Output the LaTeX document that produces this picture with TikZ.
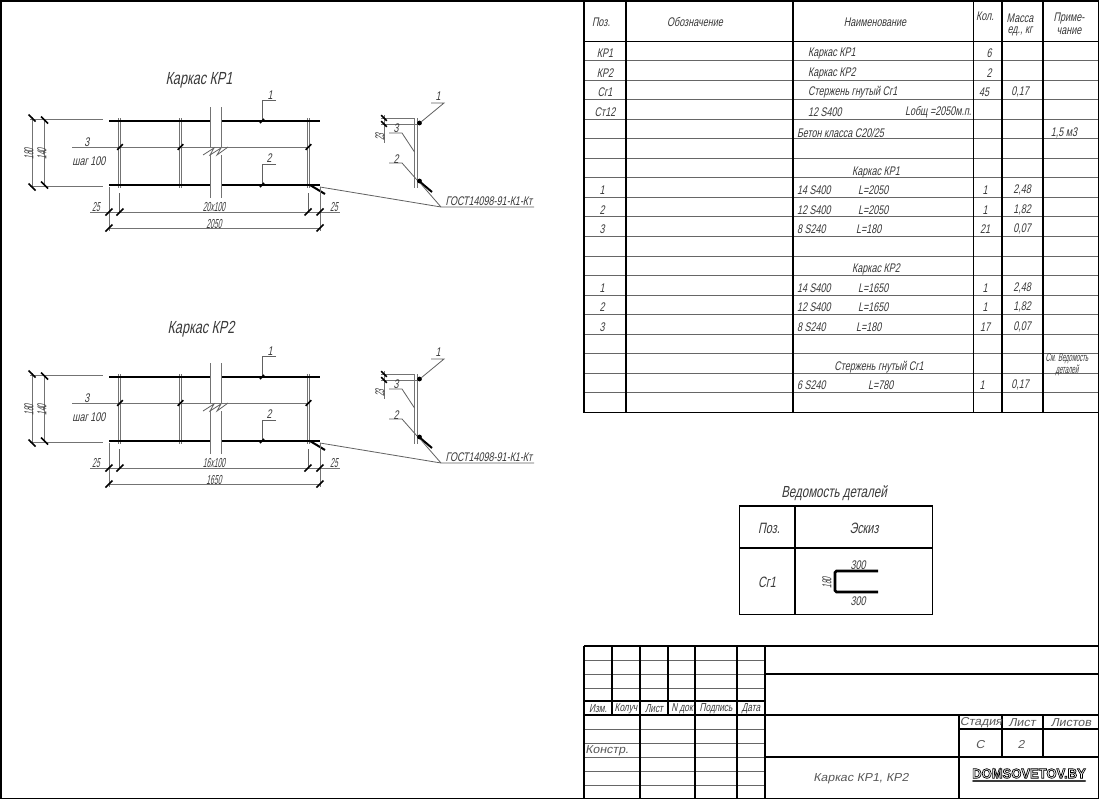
\documentclass[tikz,border=0pt]{standalone}
\usepackage{fontspec}
\setmainfont{Liberation Sans}
\newfontfamily\gn[FakeStretch=0.72,FakeSlant=0.2]{Liberation Sans}
\newfontfamily\gs[FakeStretch=0.52,FakeSlant=0.2]{Liberation Sans}
\newfontfamily\gw[FakeStretch=1.08,FakeSlant=0.2]{Liberation Sans}
\newfontfamily\wm[FakeStretch=0.95]{Liberation Sans Bold}
\definecolor{ink}{HTML}{3A3A3A}
\definecolor{rowline}{HTML}{666666}
\newcounter{nn}
\tikzset{
  txt/.style={inner sep=0pt,outer sep=0pt,yshift=-1pt,text=ink,font=\gn\fontsize{12.5}{13}\selectfont,anchor=center},
  wtxt/.style={inner sep=0pt,outer sep=0pt,yshift=-0.5pt,text=ink!85,font=\gw\fontsize{11.5}{13}\selectfont,anchor=center},
  ttl/.style={txt,font=\gn\fontsize{17.5}{19}\selectfont},
  small/.style={txt,font=\gs\fontsize{13}{14}\selectfont},
  heavy/.style={draw=black,line width=1.8pt},
  light/.style={draw=rowline,line width=1pt},
  thin/.style={draw=ink!80,line width=.8pt},
  grey/.style={draw=black!55,line width=.9pt},
  bar/.style={draw=black,line width=2.8pt},
  tick/.style={draw=black,line width=1.5pt},
  tkf/.pic={\draw[tick] (-3.5,3.5)--(3.5,-3.5);},
  tkb/.pic={\draw[tick] (-3.5,-3.5)--(3.5,3.5);},
}
\newcommand\tc[3]{\stepcounter{nn}\node[txt] (n\thenn) at (#1,#2) {#3};}
\newcommand\tl[3]{\stepcounter{nn}\node[txt,anchor=west] (n\thenn) at (#1,#2) {#3};}
\newcommand\KP[3]{%
\begin{scope}[shift={(0,#1)}]
  % stirrups
  \foreach \x in {119.5,180.5,308.5}{
    \draw[grey] (\x-1.3,118)--(\x-1.3,188) (\x+1.3,118)--(\x+1.3,188);
  }
  % mid line
  \draw[grey] (72,147)--(308,147);
  \draw[thin] (203,155)--(214,148)--(210,155)--(221,148)--(217,155)--(228,147);
  % bars
  \draw[bar] (109,121)--(210,121) (221,121)--(320,121);
  \draw[bar] (109,185)--(210,185) (221,185)--(320,185);
  \draw[line width=2pt,black] (310,185)--(325,194);
  \draw[grey] (210,107)--(210,148) (221,107)--(221,148) (210,155)--(210,198) (221,155)--(221,198);
  % left dims
  \draw[grey] (30,119.5)--(103,119.5) (30,186)--(103,186);
  \draw[grey] (32,117)--(32,188) (44.5,119)--(44.5,186);
  \pic at (32,118) {tkb}; \pic at (32,187) {tkb};
  \pic at (44.5,120) {tkb}; \pic at (44.5,185) {tkb};
  \stepcounter{nn}\node[small,rotate=90] (n\thenn) at (29,153) {180};
  \stepcounter{nn}\node[small,rotate=90] (n\thenn) at (42,153) {140};
  % bottom dims
  \draw[grey] (109,187)--(109,231) (320,187)--(320,231);
  \draw[thin] (119.5,193)--(119.5,212) (308.5,193)--(308.5,212);
  \draw[grey] (90,212)--(340,212) (109,228)--(320,228);
  \foreach \x in {109,120,308,320}{\pic at (\x,212) {tkf};}
  \pic at (109,228) {tkf}; \pic at (320,228) {tkf};
  \stepcounter{nn}\node[small] (n\thenn) at (96,206.5) {25};
  \stepcounter{nn}\node[small] (n\thenn) at (334,206.5) {25};
  \stepcounter{nn}\node[small] (n\thenn) at (214,206) {#2};
  \stepcounter{nn}\node[small] (n\thenn) at (214,223) {#3};
  % mid ticks
  \foreach \x in {120,180.5,308.5}{\pic[scale=.8] at (\x,147) {tkf};}
  % leaders
  \draw[thin] (276,100)--(262,100)--(262,121) (276,164)--(262,164)--(262,185);
  \pic[scale=.6] at (262,121) {tkf}; \pic[scale=.6] at (262,185) {tkf};
  \tc{270}{94}{1}\tc{269}{157}{2}\tc{87}{141}{3}\tc{89}{160}{шаг 100}
  % section
  \draw[grey] (414.5,118)--(414.5,188) (417,118)--(417,188);
  \draw[grey] (381,118)--(415,118) (381,124)--(419,124) (384,115)--(384,143);
  \pic[scale=.8] at (384,118) {tkb}; \pic[scale=.8] at (384,124) {tkb};
  \stepcounter{nn}\node[small,rotate=90] (n\thenn) at (380,136) {23};
  \fill[black] (419.5,123) circle (2.4) (419.5,181) circle (2.4);
  \draw[line width=2pt,black] (419,181)--(432,192);
  \draw[thin] (431,103)--(444,103)--(421,122);
  \draw[thin] (389,133)--(402,133)--(414.5,152);
  \draw[thin] (389,163)--(402,163)--(417,180);
  \tc{438}{95}{1}\tc{396}{127}{3}\tc{396}{158}{2}
  % GOST leader
  \draw[thin] (320,187)--(441,207)--(534,207) (421,184)--(441,207);
  \tc{489}{200}{ГОСТ14098-91-К1-Кт}
\end{scope}}
\begin{document}
\begin{tikzpicture}[x=1pt,y=-1pt]
\useasboundingbox (0,0) rectangle (1100,800);
\fill[white] (0,0) rectangle (1100,800);
% sheet frame
\draw[black,line width=1.8pt] (1,1) rectangle (1098.5,798.5);

% === drawings
\stepcounter{nn}\node[ttl] (n\thenn) at (199,79) {Каркас КР1};
\stepcounter{nn}\node[ttl] (n\thenn) at (201,328) {Каркас КР2};
\KP{0}{20x100}{2050}
\KP{256}{16x100}{1650}

% === specification table
\foreach \k in {1,...,18}{\draw[light] (584,41+19.55*\k)--(1098,41+19.55*\k);}
\draw[heavy] (584,41.5)--(1098,41.5);
\draw[heavy] (584,412.5)--(1098,412.5);
\foreach \x in {584,626,793,973.5,1002,1043}{\draw[heavy] (\x,1)--(\x,412.5);}
% header
\tc{601}{21}{Поз.}\tc{695}{21}{Обозначение}\tc{875}{21}{Наименование}\tc{985}{15}{Кол.}
\tc{1020}{17}{Масса}\tc{1020}{30}{ед., кг}\tc{1069}{17}{Приме-}\tc{1069}{30}{чание}
% rows
\tc{605}{52}{КР1}\tl{808}{52}{Каркас КР1}\tc{989}{52}{6}
\tc{605}{72}{КР2}\tl{808}{72}{Каркас КР2}\tc{989}{72}{2}
\tc{605}{91}{Сг1}\tl{808}{91}{Стержень гнутый Сг1}\tc{984}{91}{45}\tc{1020}{91}{0,17}
\tc{605}{111}{Ст12}\tl{808}{111}{12 S400}\tl{905}{111}{Lобщ =2050м.п.}
\tl{797}{132}{Бетон класса С20/25}\tc{1064}{132}{1,5 м3}
\tc{876}{171}{Каркас КР1}
\tc{602}{189}{1}\tl{797}{189}{14 S400}\tl{858}{189}{L=2050}\tc{985}{189}{1}\tc{1022}{189}{2,48}
\tc{602}{209}{2}\tl{797}{209}{12 S400}\tl{858}{209}{L=2050}\tc{985}{209}{1}\tc{1022}{209}{1,82}
\tc{602}{228}{3}\tl{797}{228}{8 S240}\tl{856}{228}{L=180}\tc{985}{228}{21}\tc{1022}{228}{0,07}
\tc{876}{268}{Каркас КР2}
\tc{602}{287}{1}\tl{797}{287}{14 S400}\tl{858}{287}{L=1650}\tc{985}{287}{1}\tc{1022}{287}{2,48}
\tc{602}{306}{2}\tl{797}{306}{12 S400}\tl{858}{306}{L=1650}\tc{985}{306}{1}\tc{1022}{306}{1,82}
\tc{602}{326}{3}\tl{797}{326}{8 S240}\tl{856}{326}{L=180}\tc{985}{326}{17}\tc{1022}{326}{0,07}
\tc{879}{366}{Стержень гнутый Сг1}
\stepcounter{nn}\node[small,font=\gs\fontsize{11.5}{12}\selectfont] (n\thenn) at (1067,357.5) {См. Ведомость};
\stepcounter{nn}\node[small,font=\gs\fontsize{11.5}{12}\selectfont] (n\thenn) at (1067,369) {деталей};
\tl{797}{384}{6 S240}\tl{868}{384}{L=780}\tc{982}{384}{1}\tc{1020}{384}{0,17}

% === details table
\stepcounter{nn}\node[ttl,font=\gn\fontsize{16}{18}\selectfont] (n\thenn) at (834,492) {Ведомость деталей};
\draw[heavy] (739.5,506) rectangle (932.5,614.5);
\draw[heavy] (739.5,548)--(932.5,548) (795,506)--(795,614.5);
\stepcounter{nn}\node[ttl,font=\gn\fontsize{15}{17}\selectfont] (n\thenn) at (769,527) {Поз.};
\stepcounter{nn}\node[ttl,font=\gn\fontsize{15}{17}\selectfont] (n\thenn) at (864,527) {Эскиз};
\stepcounter{nn}\node[ttl,font=\gn\fontsize{15}{17}\selectfont] (n\thenn) at (767,581) {Сг1};
\draw[black,line width=2.6pt,rounded corners=1.5pt] (878,571)--(835,571)--(835,592)--(878,592);
\tc{858}{564}{300}\tc{858}{600}{300}
\stepcounter{nn}\node[small,rotate=90] (n\thenn) at (827,582) {180};

% === title block
\foreach \y in {660,674,688,729,743,757,771,785}{\draw[light] (584,\y)--(765,\y);}
\draw[heavy] (584,646)--(1098,646);
\draw[heavy] (765,674)--(1098,674);
\draw[heavy] (584,701)--(765,701);
\draw[heavy] (584,715)--(1098,715);
\draw[heavy] (765,757)--(1098,757);
\draw[heavy] (959,729)--(1098,729);
\foreach \x in {584,640,695,737,765}{\draw[heavy] (\x,646)--(\x,798);}
\foreach \x in {612,668}{\draw[heavy] (\x,646)--(\x,715);}
\draw[heavy] (959,715)--(959,798);
\foreach \x in {1002,1043}{\draw[heavy] (\x,715)--(\x,757);}
\tikzset{tb/.style={txt,font=\gn\fontsize{11.5}{13}\selectfont}}
\stepcounter{nn}\node[tb] (n\thenn) at (598,708) {Изм.};
\stepcounter{nn}\node[tb] (n\thenn) at (626,708) {Колуч};
\stepcounter{nn}\node[tb] (n\thenn) at (654,708) {Лист};
\stepcounter{nn}\node[tb] (n\thenn) at (682,708) {N док};
\stepcounter{nn}\node[tb] (n\thenn) at (716,708) {Подпись};
\stepcounter{nn}\node[tb] (n\thenn) at (751,708) {Дата};
\stepcounter{nn}\node[wtxt] (n\thenn) at (607,750) {Констр.};
\stepcounter{nn}\node[wtxt] (n\thenn) at (981,722.5) {Стадия};
\stepcounter{nn}\node[wtxt] (n\thenn) at (1022,722.5) {Лист};
\stepcounter{nn}\node[wtxt] (n\thenn) at (1071,722.5) {Листов};
\stepcounter{nn}\node[wtxt] (n\thenn) at (980,744) {С};
\stepcounter{nn}\node[wtxt] (n\thenn) at (1021,744) {2};
\stepcounter{nn}\node[wtxt] (n\thenn) at (861,778) {Каркас КР1, КР2};
% watermark
\stepcounter{nn}\node[inner sep=0pt,text=black,font=\wm\fontsize{13.7}{15}\selectfont] (wm) at (1029,773.5)
  {\special{pdf:code 1 Tr 0.7 w}DOMSOVETOV.BY\special{pdf:code 0 Tr}};
\draw[draw=ink,line width=2pt,line cap=round] (973,781)--(1085,781);
\end{tikzpicture}
\end{document}
